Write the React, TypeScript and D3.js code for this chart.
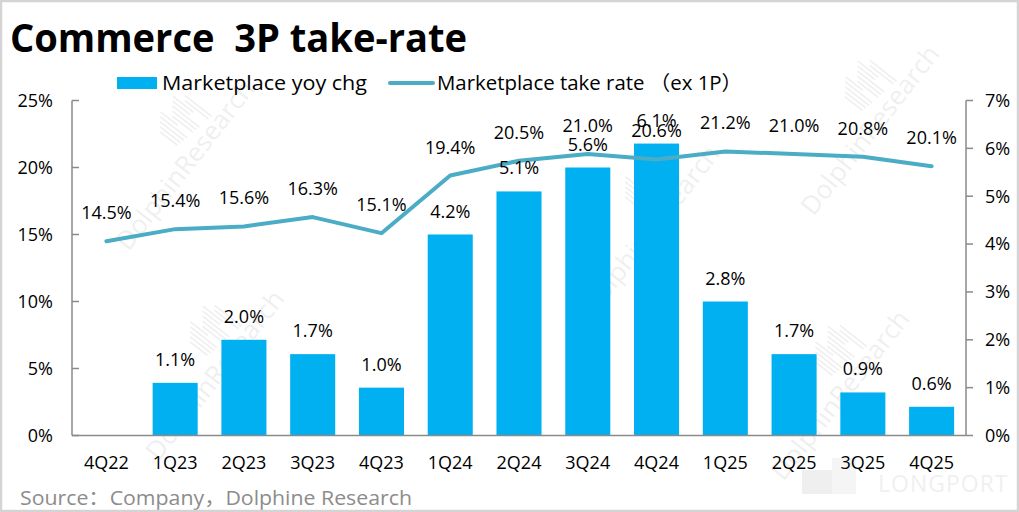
// Commerce 3P take-rate: bars = marketplace yoy chg (right axis, 0–7%),
// line = marketplace take rate ex 1P (left axis, 0–25%). Excel-style combo chart.
import * as d3 from "d3";

const categories = ["4Q22", "1Q23", "2Q23", "3Q23", "4Q23", "1Q24", "2Q24", "3Q24", "4Q24", "1Q25", "2Q25", "3Q25", "4Q25"];
const yoyChg: (number | null)[] = [null, 1.1, 2.0, 1.7, 1.0, 4.2, 5.1, 5.6, 6.1, 2.8, 1.7, 0.9, 0.6];
const takeRate = [14.5, 15.4, 15.6, 16.3, 15.1, 19.4, 20.5, 21.0, 20.6, 21.2, 21.0, 20.8, 20.1];
const leftTicks = [0, 5, 10, 15, 20, 25];
const rightTicks = [0, 1, 2, 3, 4, 5, 6, 7];

const W = 1019;
const H = 512;
const BAR = "#00B0F0";
const LINE = "#4BACC6";
const AXIS = "#8a8a8a";
const FONT = "'Open Sans', 'Noto Sans CJK SC', sans-serif";

// faint brand watermarks (centre x, centre y)
const marks = [
  [185, 165],
  [870, 130],
  [650, 230],
  [215, 375],
  [840, 395],
];

export default function App() {
  const plot = { left: 72, right: 966, top: 100.5, bottom: 435.5 };
  const x = d3.scaleBand<string>().domain(categories).range([plot.left, plot.right]).padding(0);
  const barW = x.bandwidth() * 0.655;
  const cx = (c: string) => (x(c) ?? 0) + x.bandwidth() / 2;
  const yL = d3.scaleLinear().domain([0, 25]).range([plot.bottom, plot.top]);
  const yR = d3.scaleLinear().domain([0, 7]).range([plot.bottom, plot.top]);

  const linePath =
    d3
      .line<number>()
      .x((_d, i) => cx(categories[i]))
      .y((d) => yL(d))(takeRate) ?? "";

  return (
    <svg width={W} height={H} viewBox={`0 0 ${W} ${H}`} style={{ display: "block", fontFamily: FONT }}>
      <style>{`body{margin:0}`}</style>
      <rect x={0} y={0} width={W} height={H} fill="#fff" />

      {/* watermarks */}
      {marks.map(([mx, my], i) => (
        <g key={i} transform={`translate(${mx},${my}) rotate(-52)`} opacity={0.06}>
          <text textAnchor="middle" fontSize={26} fill="#000" dy="0.35em">
            DolphinResearch
          </text>
          {d3.range(12).map((k) => (
            <rect key={k} x={10 + k * 4} y={-40 - (k % 5) * 3} width={1.5} height={22 + (k % 4) * 4} fill="#000" />
          ))}
        </g>
      ))}
      <g opacity={0.06}>
        <rect x={802} y={470} width={30} height={24} fill="#000" />
        <rect x={832} y={458} width={24} height={36} fill="#000" opacity={0.6} />
        <text x={878} y={492} fontSize={23} fill="#000" letterSpacing="1">
          LONGPORT
        </text>
      </g>

      {/* title */}
      <text
        x={10}
        y={52}
        fontSize={40}
        fontWeight={700}
        fill="#000"
        style={{ whiteSpace: "pre" }}
        textLength={457}
        lengthAdjust="spacingAndGlyphs"
      >
        {"Commerce  3P take-rate"}
      </text>

      {/* legend */}
      <rect x={117} y={77} width={40} height={12} fill={BAR} />
      <text x={162} y={90} fontSize={20} fill="#000" textLength={205} lengthAdjust="spacingAndGlyphs">
        Marketplace yoy chg
      </text>
      <line x1={390} x2={433} y1={83} y2={83} stroke={LINE} strokeWidth={4} strokeLinecap="round" />
      <text x={437} y={90} fontSize={20} fill="#000" textLength={305} lengthAdjust="spacingAndGlyphs">
        Marketplace take rate （ex 1P）
      </text>

      {/* bars (right axis) */}
      {categories.map((c, i) => {
        const v = yoyChg[i];
        if (v == null) return null;
        return (
          <rect key={c} x={cx(c) - barW / 2} y={yR(v)} width={barW} height={yR(0) - yR(v)} fill={BAR} />
        );
      })}

      {/* axes */}
      <line x1={plot.left} x2={plot.left} y1={plot.top} y2={plot.bottom} stroke={AXIS} strokeWidth={1.5} />
      <line x1={plot.right} x2={plot.right} y1={plot.top} y2={plot.bottom} stroke={AXIS} strokeWidth={1.5} />
      <line x1={plot.left} x2={plot.right} y1={plot.bottom} y2={plot.bottom} stroke={AXIS} strokeWidth={1.5} />
      {leftTicks.map((t) => (
        <g key={`l${t}`}>
          <line x1={plot.left} x2={plot.left + 7} y1={yL(t)} y2={yL(t)} stroke={AXIS} strokeWidth={1.5} />
          <text x={53} y={yL(t)} dy="0.35em" textAnchor="end" fontSize={18} fill="#000">
            {`${t}%`}
          </text>
        </g>
      ))}
      {rightTicks.map((t) => (
        <g key={`r${t}`}>
          <line x1={plot.right} x2={plot.right + 7} y1={yR(t)} y2={yR(t)} stroke={AXIS} strokeWidth={1.5} />
          <text x={985} y={yR(t)} dy="0.35em" fontSize={18} fill="#000">
            {`${t}%`}
          </text>
        </g>
      ))}
      {categories.map((c) => (
        <text key={c} x={cx(c)} y={469} textAnchor="middle" fontSize={18} fill="#000">
          {c}
        </text>
      ))}

      {/* line (left axis) */}
      <path d={linePath} fill="none" stroke={LINE} strokeWidth={4} strokeLinejoin="round" strokeLinecap="round" />

      {/* data labels */}
      {categories.map((c, i) => {
        const v = yoyChg[i];
        if (v == null) return null;
        return (
          <text key={`b${c}`} x={cx(c)} y={yR(v) - 17} textAnchor="middle" fontSize={18} fill="#000">
            {`${v.toFixed(1)}%`}
          </text>
        );
      })}
      {categories.map((c, i) => (
        <text key={`p${c}`} x={cx(c)} y={yL(takeRate[i]) - 22} textAnchor="middle" fontSize={18} fill="#000">
          {`${takeRate[i].toFixed(1)}%`}
        </text>
      ))}

      {/* footer */}
      <text x={20} y={505} fontSize={20} fill="#8c8c8c" textLength={392} lengthAdjust="spacingAndGlyphs">
        Source：Company，Dolphine Research
      </text>

      {/* frame */}
      <rect x={1} y={1} width={W - 2} height={H - 2} fill="none" stroke="#d4d4d4" strokeWidth={2.5} />
    </svg>
  );
}
